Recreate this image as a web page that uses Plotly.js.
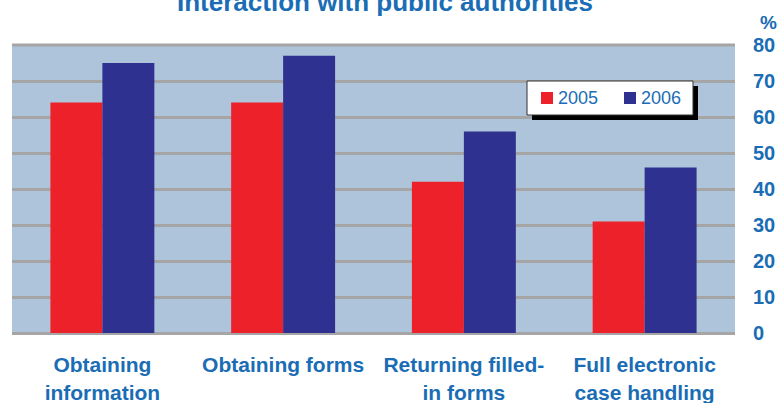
<!DOCTYPE html>
<html>
<head>
<meta charset="utf-8">
<script src="https://cdn.plot.ly/plotly-3.0.1.min.js"></script>
<style>html,body{margin:0;padding:0;background:#fff;}#chart{width:779px;height:403px;}</style>
</head>
<body>
<div id="chart"></div>
<script>
const categories = ["Obtaining<br>information", "Obtaining forms", "Returning filled-<br>in forms", "Full electronic<br>case handling"];
const values2005 = [64, 64, 42, 31];
const values2006 = [75, 77, 56, 46];
const seriesNames = ["2005", "2006"];
const seriesColors = ["#ed2129", "#2e3190"];
const yTicks = [0, 10, 20, 30, 40, 50, 60, 70, 80];

const blueText = "#1a6db5";
const fontFam = "Liberation Sans, Arial, sans-serif";

// plot area in pixels: left 12, right 735, top 45, bottom 333
const PX_L = 12, PX_W = 723, PX_B = 333, PX_H = 288;
const px = v => (v - PX_L) / PX_W;
const py = v => (PX_B - v) / PX_H;

const traces = [
  {type: "bar", name: seriesNames[0], x: categories, y: values2005, marker: {color: seriesColors[0]}, showlegend: false},
  {type: "bar", name: seriesNames[1], x: categories, y: values2006, marker: {color: seriesColors[1]}, showlegend: false}
];

// legend box drawn as shapes (with drop shadow) and annotations
const legendShapes = [
  {type: "rect", xref: "paper", yref: "paper", x0: px(532), x1: px(698), y0: py(120), y1: py(86),
   fillcolor: "#000000", line: {width: 0}, layer: "above"},
  {type: "rect", xref: "paper", yref: "paper", x0: px(527), x1: px(693), y0: py(115), y1: py(81),
   fillcolor: "#ffffff", line: {color: "#333333", width: 1}, layer: "above"}
];
const legendSquareX = [541, 624];
const legendAnn = [];
seriesNames.forEach((n, i) => {
  const sx = legendSquareX[i];
  legendShapes.push({type: "rect", xref: "paper", yref: "paper", x0: px(sx), x1: px(sx + 12), y0: py(104), y1: py(92),
    fillcolor: seriesColors[i], line: {width: 0}, layer: "above"});
  legendAnn.push({text: n, xref: "paper", yref: "paper", x: px(sx + 15), y: py(98.5), xanchor: "left", yanchor: "middle",
    showarrow: false, font: {family: fontFam, size: 18, color: blueText}});
});

const layout = {
  width: 779, height: 403,
  margin: {l: 12, r: 44, t: 45, b: 70},
  paper_bgcolor: "#ffffff",
  plot_bgcolor: "#aec4db",
  barmode: "group",
  bargap: 0.425,
  bargroupgap: 0,
  showlegend: false,
  xaxis: {
    type: "category",
    ticks: "outside", ticklen: 13, tickcolor: "rgba(0,0,0,0)",
    tickfont: {family: fontFam, size: 21, color: blueText, weight: "bold"},
    showgrid: false, zeroline: false, showline: false
  },
  yaxis: {
    side: "right", range: [0, 80], tickvals: yTicks,
    ticks: "outside", ticklen: 13, tickcolor: "rgba(0,0,0,0)",
    tickfont: {family: fontFam, size: 20, color: blueText, weight: "bold"},
    gridcolor: "#a5a5a5", gridwidth: 3,
    zeroline: true, zerolinecolor: "#a5a5a5", zerolinewidth: 3,
    showline: false
  },
  shapes: [
    {type: "line", xref: "paper", yref: "paper", x0: 0, x1: 1, y0: 1, y1: 1, line: {color: "#a5a5a5", width: 3}}
  ].concat(legendShapes),
  annotations: [
    {text: "<b>Interaction with public authorities</b>", xref: "paper", yref: "paper",
     x: px(385), y: 1 + 26 / 288, xanchor: "center", yanchor: "bottom", showarrow: false,
     font: {family: fontFam, size: 26, color: blueText}},
    {text: "<b>%</b>", xref: "paper", yref: "paper",
     x: px(768), y: 1 + 10 / 288, xanchor: "center", yanchor: "bottom", showarrow: false,
     font: {family: fontFam, size: 19, color: blueText}}
  ].concat(legendAnn)
};

Plotly.newPlot("chart", traces, layout, {displayModeBar: false, staticPlot: true});
</script>
</body>
</html>
